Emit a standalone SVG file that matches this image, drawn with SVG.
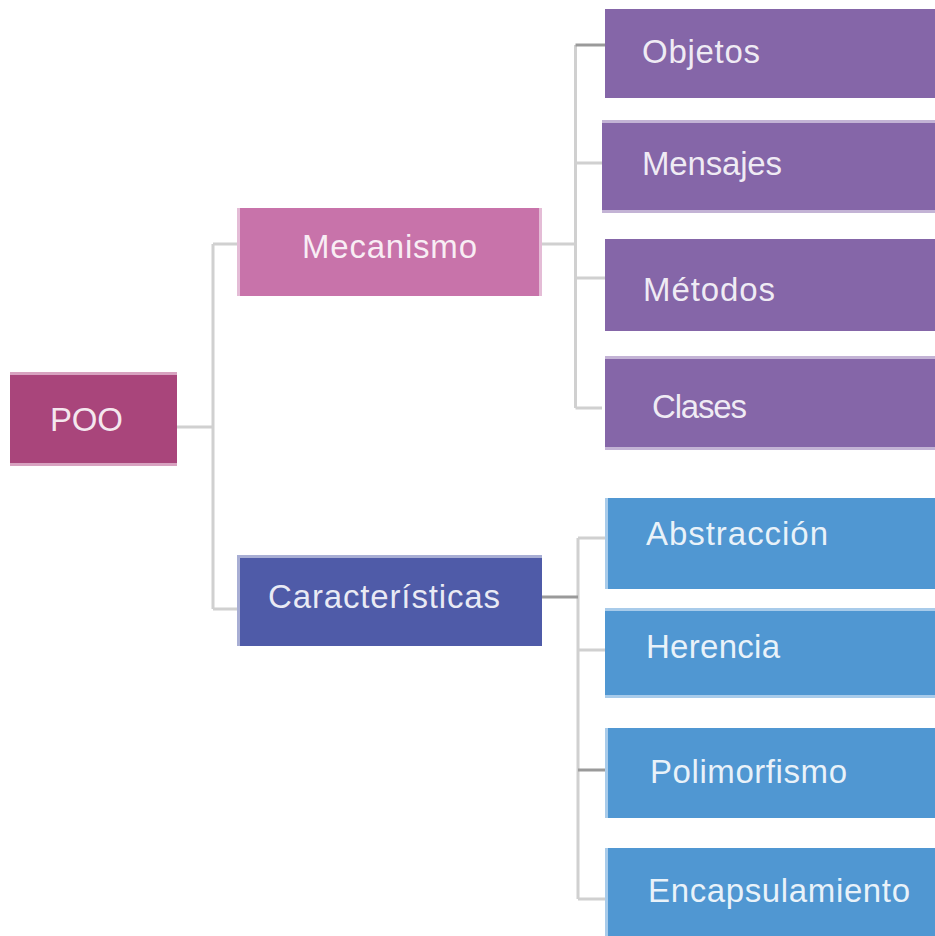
<svg xmlns="http://www.w3.org/2000/svg" width="935" height="936" viewBox="0 0 935 936">
<style>
.t{font-family:"Liberation Sans","DejaVu Sans",sans-serif;font-size:33px;fill:#ffffff;fill-opacity:0.88}
.c{stroke:#d0d0d0;stroke-width:3;fill:none}
.cd{stroke:#9a9a9a;stroke-width:3;fill:none}
.poo{fill:#a9457b}.poos{fill:#d8a2c0}
.mec{fill:#c873aa}.mecs{fill:#e4bcd6}
.car{fill:#4f5ba8}.cars{fill:#a8aed4}
.pu{fill:#8566a8}.pus{fill:#c3b3d5}
.bl{fill:#5097d2}.bls{fill:#a8cbea}
</style>
<rect width="935" height="936" fill="#ffffff"/>
<g id="connectors">
<path class="c" d="M177 427H213M213 244V609M213 244H237M213 609H237"/>
<path class="c" d="M542 244H575.5M575.5 45V408M575.5 163H602M575.5 278H605M575.5 408H602"/>
<path class="cd" d="M575.5 45H605"/>
<path class="c" d="M578 538V899M578 538H605M578 650H605M578 899H605"/>
<path class="cd" d="M542 597H578M578 770H605"/>
</g>
<g id="poo">
<rect class="poo" x="10" y="372" width="167" height="94"/>
<rect class="poos" x="10" y="372" width="167" height="3"/>
<rect class="poos" x="10" y="463" width="167" height="3"/>
<text class="t" x="50" y="431" textLength="73" lengthAdjust="spacing">POO</text>
</g>
<g id="mecanismo">
<rect class="mec" x="237" y="208" width="305" height="88"/>
<rect class="mecs" x="237" y="208" width="3" height="88"/>
<rect class="mecs" x="539" y="208" width="3" height="88"/>
<text class="t" x="302" y="258" textLength="175" lengthAdjust="spacing">Mecanismo</text>
</g>
<g id="caracteristicas">
<rect class="car" x="237" y="555" width="305" height="91"/>
<rect class="cars" x="237" y="555" width="305" height="3"/>
<rect class="cars" x="237" y="555" width="3" height="91"/>
<text class="t" x="268" y="608" textLength="232" lengthAdjust="spacing">Características</text>
</g>
<g id="objetos">
<rect class="pu" x="605" y="9" width="330" height="89"/>
<text class="t" x="642" y="63" textLength="118" lengthAdjust="spacing">Objetos</text>
</g>
<g id="mensajes">
<rect class="pu" x="602" y="120" width="333" height="93"/>
<rect class="pus" x="602" y="120" width="333" height="3"/>
<rect class="pus" x="602" y="210" width="333" height="3"/>
<text class="t" x="642" y="175" textLength="140" lengthAdjust="spacing">Mensajes</text>
</g>
<g id="metodos">
<rect class="pu" x="605" y="239" width="330" height="92"/>
<text class="t" x="643" y="301" textLength="132" lengthAdjust="spacing">Métodos</text>
</g>
<g id="clases">
<rect class="pu" x="605" y="356" width="330" height="94"/>
<rect class="pus" x="605" y="356" width="330" height="3"/>
<rect class="pus" x="605" y="447" width="330" height="3"/>
<text class="t" x="652" y="418" textLength="95" lengthAdjust="spacing">Clases</text>
</g>
<g id="abstraccion">
<rect class="bl" x="605" y="498" width="330" height="91"/>
<rect class="bls" x="605" y="498" width="3" height="91"/>
<text class="t" x="646" y="545" textLength="182" lengthAdjust="spacing">Abstracción</text>
</g>
<g id="herencia">
<rect class="bl" x="605" y="608" width="330" height="90"/>
<rect class="bls" x="605" y="608" width="330" height="3"/>
<rect class="bls" x="605" y="695" width="330" height="3"/>
<text class="t" x="646" y="658" textLength="134" lengthAdjust="spacing">Herencia</text>
</g>
<g id="polimorfismo">
<rect class="bl" x="605" y="728" width="330" height="90"/>
<rect class="bls" x="605" y="728" width="3" height="90"/>
<text class="t" x="650" y="783" textLength="197" lengthAdjust="spacing">Polimorfismo</text>
</g>
<g id="encapsulamiento">
<rect class="bl" x="605" y="848" width="330" height="88"/>
<rect class="bls" x="605" y="848" width="3" height="88"/>
<text class="t" x="648" y="902" textLength="262" lengthAdjust="spacing">Encapsulamiento</text>
</g>
</svg>
